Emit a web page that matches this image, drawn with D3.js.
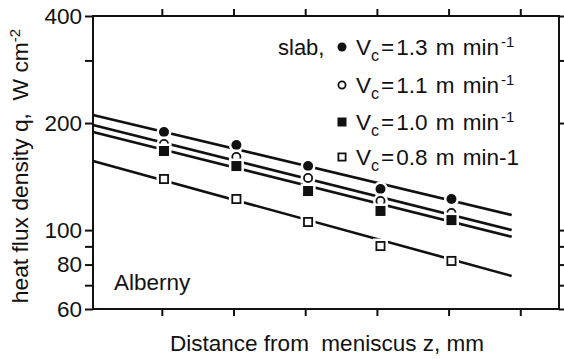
<!DOCTYPE html>
<html lang="en">
<meta charset="UTF-8">
<title>Heat flux density vs distance from meniscus</title>
<script src="https://d3js.org/d3.v7.min.js"></script>
<style>
body {margin:0; background:#fff}
text {font-family: "Liberation Sans", Arial, sans-serif; fill:#111}
</style>
<body>
<svg id="chart" width="564" height="359"></svg>
<script>
// data
var zTicks = [1, 2, 3, 4, 5, 6];
var zPoints = [1.03, 2.04, 3.04, 4.05, 5.04];
var qLabels = [60, 80, 100, 200, 400];
var qMinor = [70, 90, 300];

var q13 = [188.7, 173.5, 151.4, 130.5, 122.3];
var q11 = [174.6, 160.5, 140.2, 120.7, 111.7];
var q10 = [166.9, 151.4, 128.8, 113.2, 106.7];
var q08 = [139.2, 122.3, 105.4, 90.2, 81.9];

// fitted lines (value at left axis, value at line end)
var fitZ = [0.04, 5.88];
var fit13 = [210.7, 110.3];
var fit11 = [197.4, 100.0];
var fit10 = [188.7, 95.8];
var fit08 = [156.4, 74.3];

var legendSpeeds = ["1.3", "1.1", "1.0", "0.8"];

var series = [
  {vals: q13, fit: fit13, shape: "circle", filled: true},
  {vals: q11, fit: fit11, shape: "circle", filled: false},
  {vals: q10, fit: fit10, shape: "square", filled: true},
  {vals: q08, fit: fit08, shape: "square", filled: false}
];

var svg = d3.select("#chart");
var mLeft = 93, mRight = 559, mTop = 16, mBottom = 309;

var x = d3.scaleLinear().domain([0.04, 6.54]).range([mLeft, mRight]);
var y = d3.scaleLog().domain([60, 400]).range([mBottom, mTop]);

// frame
svg.append("rect")
  .attr("x", mLeft).attr("y", mTop)
  .attr("width", mRight - mLeft).attr("height", mBottom - mTop)
  .attr("fill", "none").attr("stroke", "#111").attr("stroke-width", 2);

// ticks
svg.append("g").attr("transform", "translate(0," + mBottom + ")")
  .call(d3.axisBottom(x).tickValues(zTicks).tickSize(7).tickFormat(""))
  .call(g => g.select(".domain").remove());
svg.append("g").attr("transform", "translate(0," + mTop + ")")
  .call(d3.axisTop(x).tickValues(zTicks).tickSize(7).tickFormat(""))
  .call(g => g.select(".domain").remove());
svg.append("g").attr("transform", "translate(" + mLeft + ",0)")
  .call(d3.axisLeft(y).tickValues(qLabels.concat(qMinor)).tickSize(8)
    .tickFormat(d => qLabels.indexOf(d) > -1 ? d : "").tickPadding(3))
  .call(g => g.select(".domain").remove());
svg.append("g").attr("transform", "translate(" + mRight + ",0)")
  .call(d3.axisRight(y).tickValues(qLabels.concat(qMinor)).tickSize(7).tickFormat(""))
  .call(g => g.select(".domain").remove());

svg.selectAll(".tick line").attr("stroke", "#111").attr("stroke-width", 2);
svg.selectAll(".tick text")
  .style("font-family", '"Liberation Sans", Arial, sans-serif')
  .style("font-size", "22.5px").attr("fill", "#111");

// fitted lines
series.forEach(function(s) {
  svg.append("line")
    .attr("x1", x(fitZ[0])).attr("y1", y(s.fit[0]))
    .attr("x2", x(fitZ[1])).attr("y2", y(s.fit[1]))
    .attr("stroke", "#111").attr("stroke-width", 2.6);
});

function marker(g, shape, filled, cx, cy, r, halo) {
  if (shape == "circle") {
    if (halo) g.append("circle").attr("cx", cx).attr("cy", cy).attr("r", r + 2.5).attr("fill", "#fff");
    g.append("circle").attr("cx", cx).attr("cy", cy).attr("r", filled ? r : r - 0.9)
      .attr("fill", filled ? "#111" : "#fff")
      .attr("stroke", filled ? "none" : "#111").attr("stroke-width", 1.8);
  } else {
    if (halo) g.append("rect").attr("x", cx - r - 2.5).attr("y", cy - r - 2.5)
      .attr("width", 2 * r + 5).attr("height", 2 * r + 5).attr("fill", "#fff");
    var h = filled ? r : r - 0.9;
    g.append("rect").attr("x", cx - h).attr("y", cy - h)
      .attr("width", 2 * h).attr("height", 2 * h)
      .attr("fill", filled ? "#111" : "#fff")
      .attr("stroke", filled ? "none" : "#111").attr("stroke-width", 1.8);
  }
}

var pts = svg.append("g");
series.forEach(function(s) {
  s.vals.forEach(function(v, i) {
    marker(pts, s.shape, s.filled, x(zPoints[i]), y(v), 5, true);
  });
});

// legend
svg.append("text").attr("x", 278).attr("y", 55).style("font-size", "22px").text("slab,");
var legY = [55, 93, 130, 165];
series.forEach(function(s, i) {
  marker(svg, s.shape, s.filled, 342, legY[i] - 8, 4.5, false);
  var t = svg.append("text").attr("x", 356).attr("y", legY[i]).style("font-size", "22.5px")
    .style("white-space", "pre").style("word-spacing", "2px");
  t.append("tspan").text("V");
  t.append("tspan").attr("dy", 6).style("font-size", "16px").text("c");
  t.append("tspan").attr("dy", -6).attr("dx", 2).text("=");
  if (i < 3) {
    t.append("tspan").attr("dx", 2).text(legendSpeeds[i] + " m min");
    t.append("tspan").attr("dy", -8).attr("dx", 2).style("font-size", "15px").text("-1");
  } else {
    t.append("tspan").attr("dx", 2).text(legendSpeeds[i] + " m min-1");
  }
});

svg.append("text").attr("x", 114).attr("y", 290).style("font-size", "22.5px").text("Alberny");

// axis titles
svg.append("text").attr("x", 327).attr("y", 351).attr("text-anchor", "middle")
  .style("font-size", "22.5px").style("white-space", "pre").text("Distance from  meniscus z, mm");

var yt = svg.append("text").attr("transform", "translate(28,166) rotate(-90)")
  .attr("text-anchor", "middle").style("font-size", "22.8px").style("white-space", "pre");
yt.append("tspan").text("heat flux density q,  W cm");
yt.append("tspan").attr("dy", -8).style("font-size", "15px").text("-2");
</script>
</body>
</html>
